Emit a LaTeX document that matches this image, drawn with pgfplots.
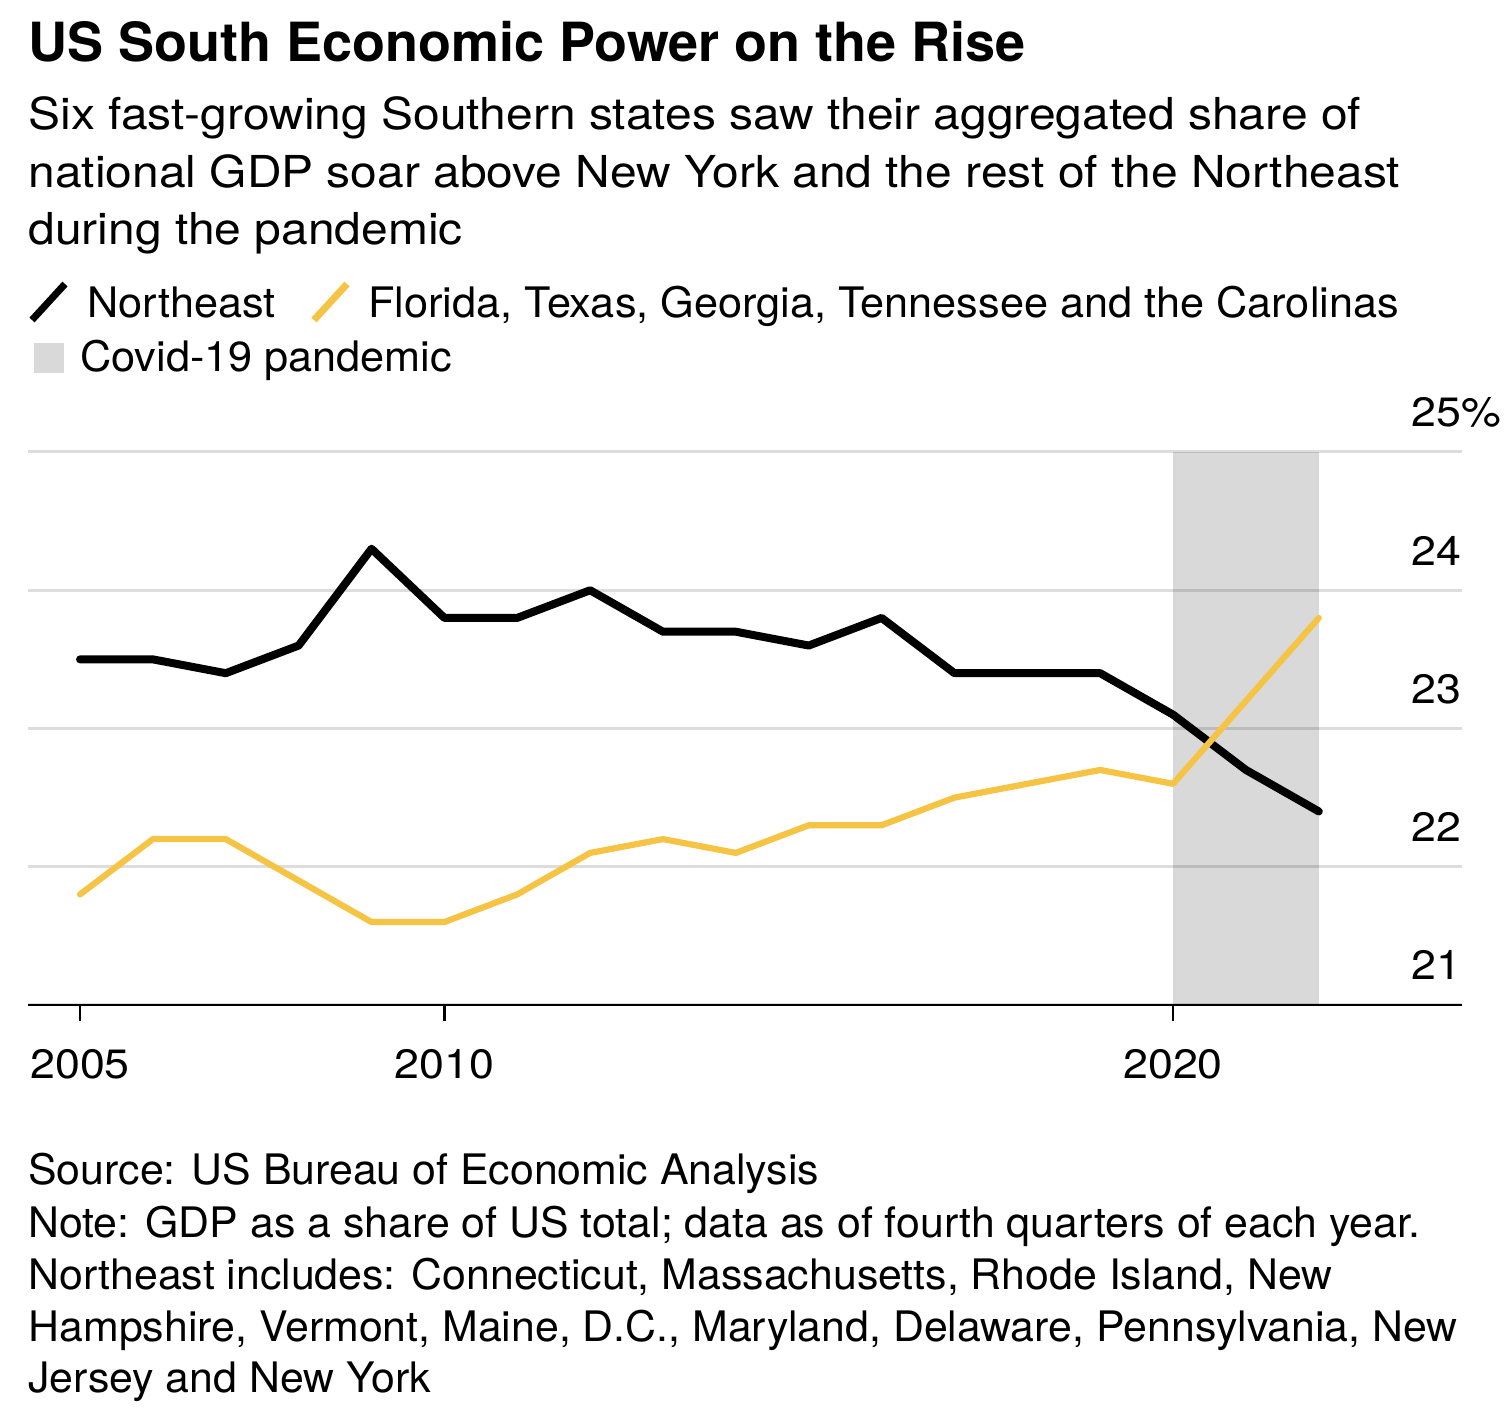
\documentclass[border=0pt]{standalone}
\usepackage{pgfplots}
\pgfplotsset{compat=1.18}
\usepackage{fontspec}
\setmainfont{TeX Gyre Heros}
\newfontfamily\subf[FakeStretch=1.09]{TeX Gyre Heros}
\newfontfamily\legf[FakeStretch=1.03]{TeX Gyre Heros}
\newfontfamily\notef[FakeStretch=1.02]{TeX Gyre Heros}
\newfontfamily\tickf[FakeStretch=1.09]{TeX Gyre Heros}
\definecolor{south}{HTML}{F6C445}
\definecolor{gridc}{HTML}{DDDDDD}
\definecolor{covidgray}{HTML}{D9D9D9}
\begin{document}
\begin{tikzpicture}[x=1bp,y=1bp]
\useasboundingbox (-14,-208.5) rectangle (740,502.5);
\begin{axis}[
 at={(0,0)}, anchor=south west, scale only axis,
 width=717bp, height=276.5bp,
 xmin=2004.286, xmax=2023.965, ymin=21, ymax=25,
 axis x line*=bottom, axis y line*=right,
 x axis line style={black, line width=1.3bp},
 y axis line style={draw=none},
 xtick={2005,2010,2020}, xticklabels={2005,2010,2020},
 ytick={21,22,23,24,25}, yticklabels={21,22,23,24,25\rlap{\%}},
 tick align=outside, major tick length=8bp,
 xtick style={black, line width=1.3bp},
 ytick style={draw=none},
 ymajorgrids, grid style={gridc, line width=1.5bp},
 ticklabel style={font=\tickf\fontsize{20.5bp}{24bp}\selectfont, inner sep=0pt},
 xticklabel style={anchor=base, yshift=-28.5bp},
 yticklabel style={anchor=base east, xshift=-8bp, yshift=12.5bp},
 clip=false,
]
\addplot[draw=none, fill=black, fill opacity=0.15, forget plot] coordinates {(2020,21) (2020,25) (2022,25) (2022,21)} -- cycle;
\addplot[black, line width=4bp, line join=round, line cap=round] coordinates {
(2005,23.5) (2006,23.5) (2007,23.4) (2008,23.6) (2009,24.3) (2010,23.8) (2011,23.8) (2012,24.0) (2013,23.7) (2014,23.7) (2015,23.6) (2016,23.8) (2017,23.4) (2018,23.4) (2019,23.4) (2020,23.1) (2021,22.7) (2022,22.4)};
\addplot[south, line width=3.1bp, line join=round, line cap=round] coordinates {
(2005,21.8) (2006,22.2) (2007,22.2) (2008,21.9) (2009,21.6) (2010,21.6) (2011,21.8) (2012,22.1) (2013,22.2) (2014,22.1) (2015,22.3) (2016,22.3) (2017,22.5) (2018,22.6) (2019,22.7) (2020,22.6) (2021,23.2) (2022,23.8)};
\end{axis}
% title and subtitle
\node[anchor=base west, inner sep=0pt, font=\bfseries\fontsize{27bp}{32bp}\selectfont] at (0,471.5) {US South Economic Power on the Rise};
\begin{scope}[every node/.style={anchor=base west, inner sep=0pt, font=\subf\fontsize{22bp}{29bp}\selectfont}]
\node at (0,437.5) {Six fast-growing Southern states saw their aggregated share of};
\node at (0,408.5) {national GDP soar above New York and the rest of the Northeast};
\node at (0,380) {during the pandemic};
\end{scope}
% legend
\draw[black, line width=3.5bp] (2,342.5) -- (18.5,360.5);
\draw[south, line width=3.5bp] (143,342.5) -- (159.5,360.5);
\fill[covidgray] (3,316) rectangle (18,331);
\begin{scope}[every node/.style={anchor=base west, inner sep=0pt, font=\legf\fontsize{21bp}{26bp}\selectfont}]
\node at (29.5,343.5) {Northeast};
\node at (170,343.5) {Florida, Texas, Georgia, Tennessee and the Carolinas};
\node at (26,316.5) {Covid-19 pandemic};
\end{scope}
% notes
\begin{scope}[every node/.style={anchor=base west, inner sep=0pt, font=\notef\fontsize{21bp}{26bp}\selectfont}]
\node at (0,-90) {Source: US Bureau of Economic Analysis};
\node at (0,-116) {Note: GDP as a share of US total; data as of fourth quarters of each year.};
\node at (0,-142) {Northeast includes: Connecticut, Massachusetts, Rhode Island, New};
\node at (0,-168) {Hampshire, Vermont, Maine, D.C., Maryland, Delaware, Pennsylvania, New};
\node at (0,-193.5) {Jersey and New York};
\end{scope}
\end{tikzpicture}
\end{document}
